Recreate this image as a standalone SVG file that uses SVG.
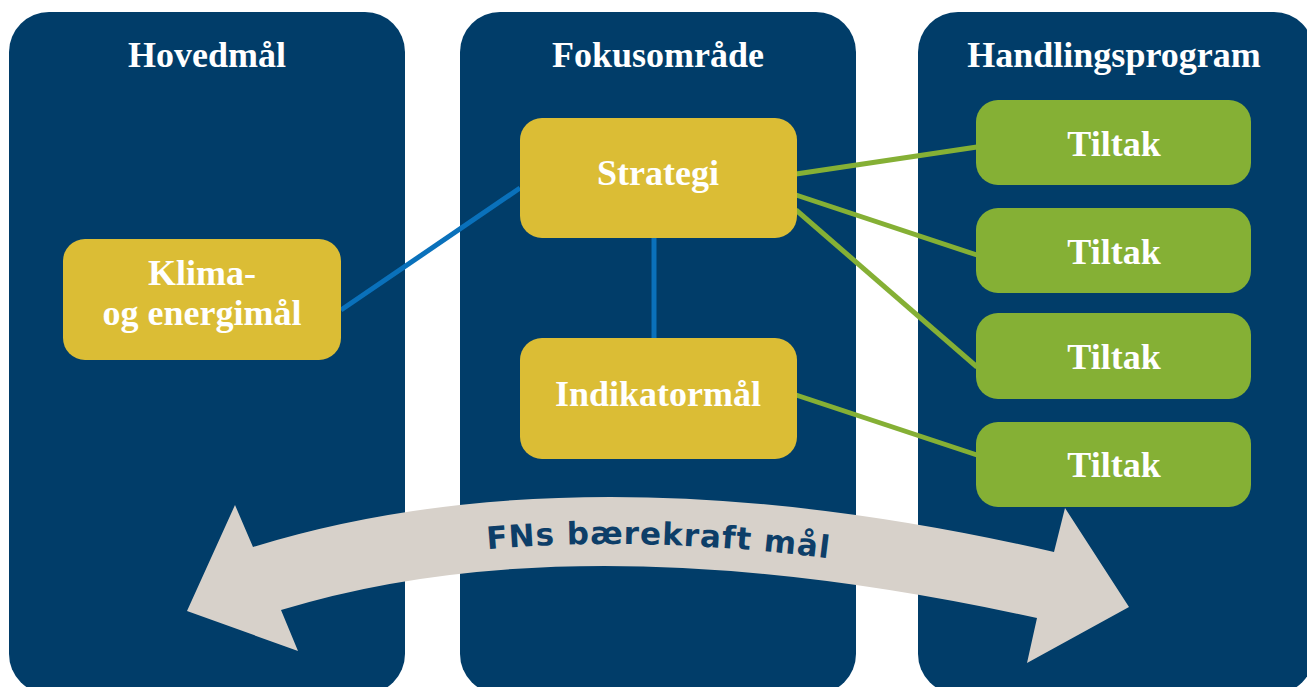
<svg xmlns="http://www.w3.org/2000/svg" width="1307" height="687" viewBox="0 0 1307 687">
<style>
.col{fill:#013d69}
.yel{fill:#dbbd35}
.grn{fill:#85b035}
.t{font-family:"Liberation Serif","Times New Roman",serif;font-weight:bold;font-size:36px;fill:#ffffff;text-anchor:middle}
.blue{stroke:#0a71bb;stroke-width:5;fill:none}
.gl{stroke:#85b035;stroke-width:5;fill:none}
.arr{font-family:"DejaVu Sans",sans-serif;font-weight:bold;font-size:31px;fill:#0d3e68;letter-spacing:0.9px}
</style>
<defs>
<path id="tp" d="M253,594 Q586,491.5 1054,599"/>
</defs>
<rect width="1307" height="687" fill="#ffffff"/>
<g id="col-hovedmal">
<rect class="col" x="9" y="12" width="396" height="682" rx="40"/>
<text class="t" x="207" y="67">Hovedmål</text>
</g>
<g id="col-fokus">
<rect class="col" x="460" y="12" width="396" height="682" rx="40"/>
<text class="t" x="658" y="67">Fokusområde</text>
</g>
<g id="col-handling">
<rect class="col" x="918" y="12" width="396" height="682" rx="40"/>
<text class="t" x="1114" y="67">Handlingsprogram</text>
</g>
<g id="connectors">
<line class="blue" x1="341" y1="310" x2="520" y2="188"/>
<line class="blue" x1="654" y1="237" x2="654" y2="340"/>
<line class="gl" x1="796" y1="174" x2="977" y2="147"/>
<line class="gl" x1="796" y1="195" x2="977" y2="255"/>
<line class="gl" x1="796" y1="210" x2="977" y2="367"/>
<line class="gl" x1="796" y1="395" x2="977" y2="455"/>
</g>
<g id="klima">
<rect class="yel" x="63" y="239" width="278" height="121" rx="22"/>
<text class="t" x="202" y="285">Klima-</text>
<text class="t" x="202" y="325">og energimål</text>
</g>
<g id="strategi">
<rect class="yel" x="520" y="118" width="277" height="120" rx="22"/>
<text class="t" x="658" y="185">Strategi</text>
</g>
<g id="indikator">
<rect class="yel" x="520" y="338" width="277" height="121" rx="22"/>
<text class="t" x="658" y="406">Indikatormål</text>
</g>
<g id="tiltak1">
<rect class="grn" x="976" y="100" width="275" height="85" rx="22"/>
<text class="t" x="1114" y="156">Tiltak</text>
</g>
<g id="tiltak2">
<rect class="grn" x="976" y="208" width="275" height="85" rx="22"/>
<text class="t" x="1114" y="264">Tiltak</text>
</g>
<g id="tiltak3">
<rect class="grn" x="976" y="313" width="275" height="86" rx="22"/>
<text class="t" x="1114" y="369">Tiltak</text>
</g>
<g id="tiltak4">
<rect class="grn" x="976" y="422" width="275" height="85" rx="22"/>
<text class="t" x="1114" y="477">Tiltak</text>
</g>
<g id="fns-arrow">
<path fill="#d7d1ca" d="M187,611 L235,505 L253,547 Q586,444.5 1054,552 L1065,508 L1129,607 L1027,663 L1037,618 Q581,518 281,610 L298,651 Z"/>
<text class="arr"><textPath href="#tp" startOffset="239">FNs bærekraft mål</textPath></text>
</g>
</svg>
